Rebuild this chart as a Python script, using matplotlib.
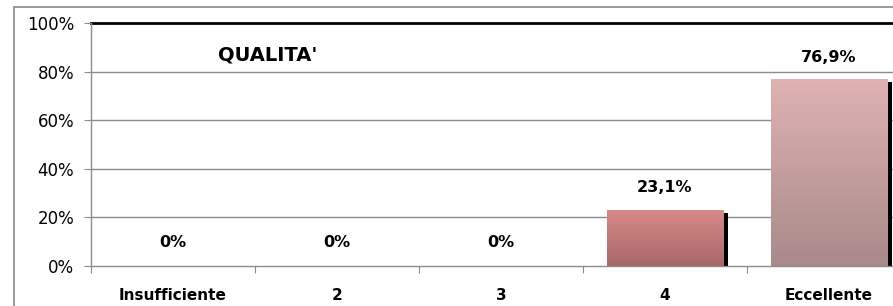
import matplotlib
matplotlib.use("Agg")
import matplotlib.pyplot as plt
import numpy as np
from matplotlib.patches import Rectangle
from matplotlib.colors import LinearSegmentedColormap

categories = ["Insufficiente", "2", "3", "4", "Eccellente"]
values = [0.0, 0.0, 0.0, 23.1, 76.9]
labels = ["0%", "0%", "0%", "23,1%", "76,9%"]
yticks = [0, 20, 40, 60, 80, 100]
ytick_labels = ["0%", "20%", "40%", "60%", "80%", "100%"]
title = "QUALITA'"

top_colors = {3: "#D88A88", 4: "#E0B2B2"}
bot_colors = {3: "#A86868", 4: "#A88A8A"}

W, H = 893, 306
fig = plt.figure(figsize=(W / 100, H / 100), dpi=100)
fig.patch.set_facecolor("white")

# outer chart border
fig.patches.append(Rectangle((14 / W, -0.05), 1.2, 1 - 7 / H + 0.05,
                             transform=fig.transFigure, fill=False,
                             edgecolor="#8a8a8a", linewidth=1.2, zorder=0))

ax = fig.add_axes([91 / W, 1 - 266 / H, (W - 91) / W, (266 - 23) / H])

# gridlines
for y in yticks[1:-1]:
    ax.axhline(y, color="#8c8c8c", linewidth=1.0, zorder=1)
ax.axhline(100, color="black", linewidth=2.0, zorder=1, clip_on=False)

bw = 0.71
for i, v in enumerate(values):
    if v <= 0:
        continue
    x0 = i - bw / 2
    # shadow
    ax.bar(i + bw / 2 + 0.016, v - 1.2, width=0.032, bottom=0,
           color="black", zorder=2, linewidth=0)
    rect = Rectangle((x0, 0), bw, v, facecolor="none", edgecolor="none", zorder=3)
    ax.add_patch(rect)
    cmap = LinearSegmentedColormap.from_list("g", [bot_colors[i], top_colors[i]])
    grad = np.linspace(0, 1, 256).reshape(-1, 1)
    im = ax.imshow(grad, cmap=cmap, aspect="auto", origin="lower",
                   extent=(x0, x0 + bw, 0, v), zorder=3, interpolation="bilinear")
    im.set_clip_path(rect)

for i, (v, lab) in enumerate(zip(values, labels)):
    ypos = v + 9 if v > 0 else 9.5
    ax.text(i, ypos, lab, ha="center", va="center", fontsize=11.5,
            fontweight="bold", color="black", zorder=4)

ax.text(0.58, 87, title, ha="center", va="center", fontsize=14,
        fontweight="bold", color="black")

ax.set_yticks(yticks)
ax.set_yticklabels(ytick_labels, fontsize=12)
ax.set_xticks([i + 0.5 for i in range(-1, 5)], minor=False)
ax.set_xticklabels([])
ax.set_xticks(range(5), minor=True)
ax.set_xticklabels(categories, minor=True, fontsize=11, fontweight="bold")
ax.tick_params(axis="x", which="major", length=5, color="#8c8c8c", direction="out")
ax.tick_params(axis="x", which="minor", length=0, pad=16)
ax.tick_params(axis="y", length=5, color="#8c8c8c", direction="out", pad=7)

ax.set_xlim(-0.5, -0.5 + (W - 91) / 164)
ax.set_ylim(0, 100)

for s in ["top", "right"]:
    ax.spines[s].set_visible(False)
ax.spines["left"].set_color("#8c8c8c")
ax.spines["bottom"].set_color("#8c8c8c")
ax.spines["left"].set_linewidth(1.0)
ax.spines["bottom"].set_linewidth(1.0)
ax.set_facecolor("white")

fig.savefig("out.png", dpi=100)
